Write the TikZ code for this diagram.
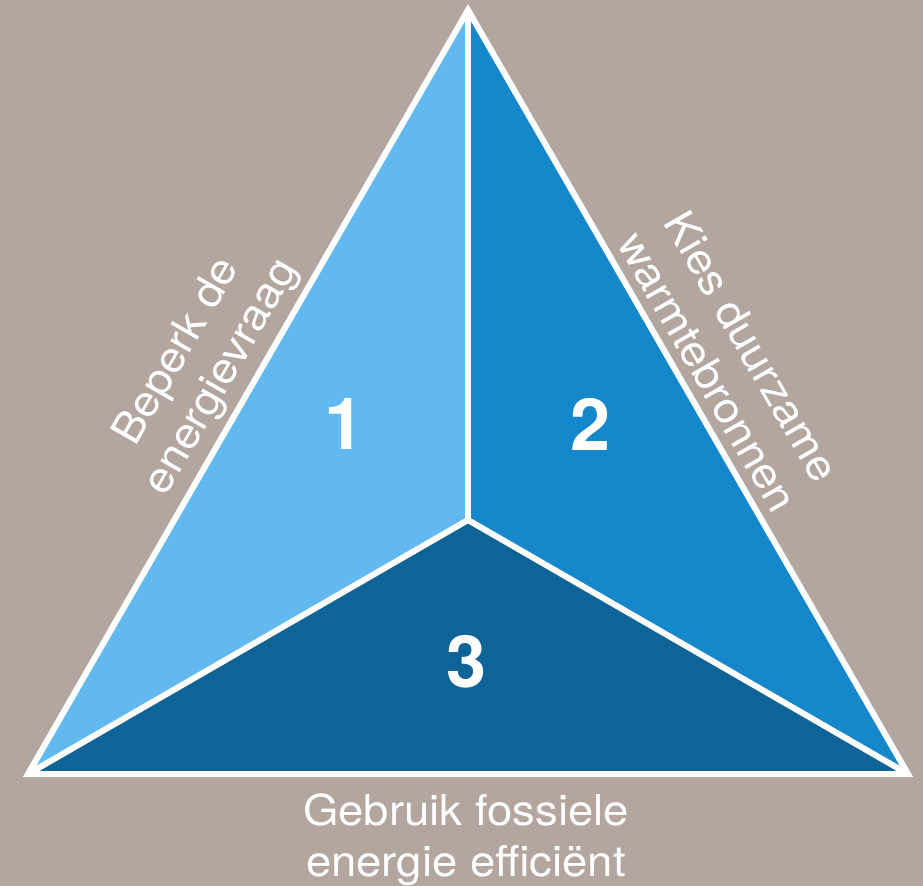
\documentclass[tikz,border=0pt]{standalone}
\usepackage{fontspec}
\setmainfont{TeX Gyre Heros}
\newfontfamily\widefont[FakeStretch=1.07]{TeX Gyre Heros}
\definecolor{bgc}{RGB}{178,166,158}
\definecolor{blueA}{RGB}{98,185,239}
\definecolor{blueB}{RGB}{21,136,203}
\definecolor{blueC}{RGB}{15,100,151}
\begin{document}
\begin{tikzpicture}[x=1pt,y=-1pt,
  edge/.style={draw=white,line width=6pt,line join=miter},
  num/.style={text=white,font=\fontsize{72}{72}\selectfont\bfseries,inner sep=0pt},
  lbl/.style={text=white,font=\widefont\fontsize{42.5}{51}\selectfont,align=center,inner sep=0pt}]
\fill[bgc] (0,0) rectangle (923,886);
\useasboundingbox (0,0) rectangle (923,886);
\coordinate (T) at (468,10);
\coordinate (L) at (28,774);
\coordinate (R) at (908,774);
\coordinate (C) at (468,520);
\fill[blueA] (T) -- (C) -- (L) -- cycle;
\fill[blueB] (T) -- (R) -- (C) -- cycle;
\fill[blueC] (L) -- (C) -- (R) -- cycle;
\draw[edge] (C) -- (T);
\draw[edge] (C) -- (L);
\draw[edge] (C) -- (R);
\fill[white] (C) circle (3);
\draw[edge] (T) -- (L) -- (R) -- cycle;
\node[num] (n1) at (345,424) {1};
\node[num] (n2) at (591,424) {2};
\node[num] (n3) at (467,662) {3};
\node[lbl,rotate=60,anchor=south] (la) at (240,388) {Beperk de\\energievraag};
\node[lbl,rotate=-60,anchor=south] (lb) at (694,380) {Kies duurzame\\warmtebronnen};
\node[lbl,anchor=north] (lc) at (466,794) {Gebruik fossiele\\energie efficiënt};
\end{tikzpicture}
\end{document}
